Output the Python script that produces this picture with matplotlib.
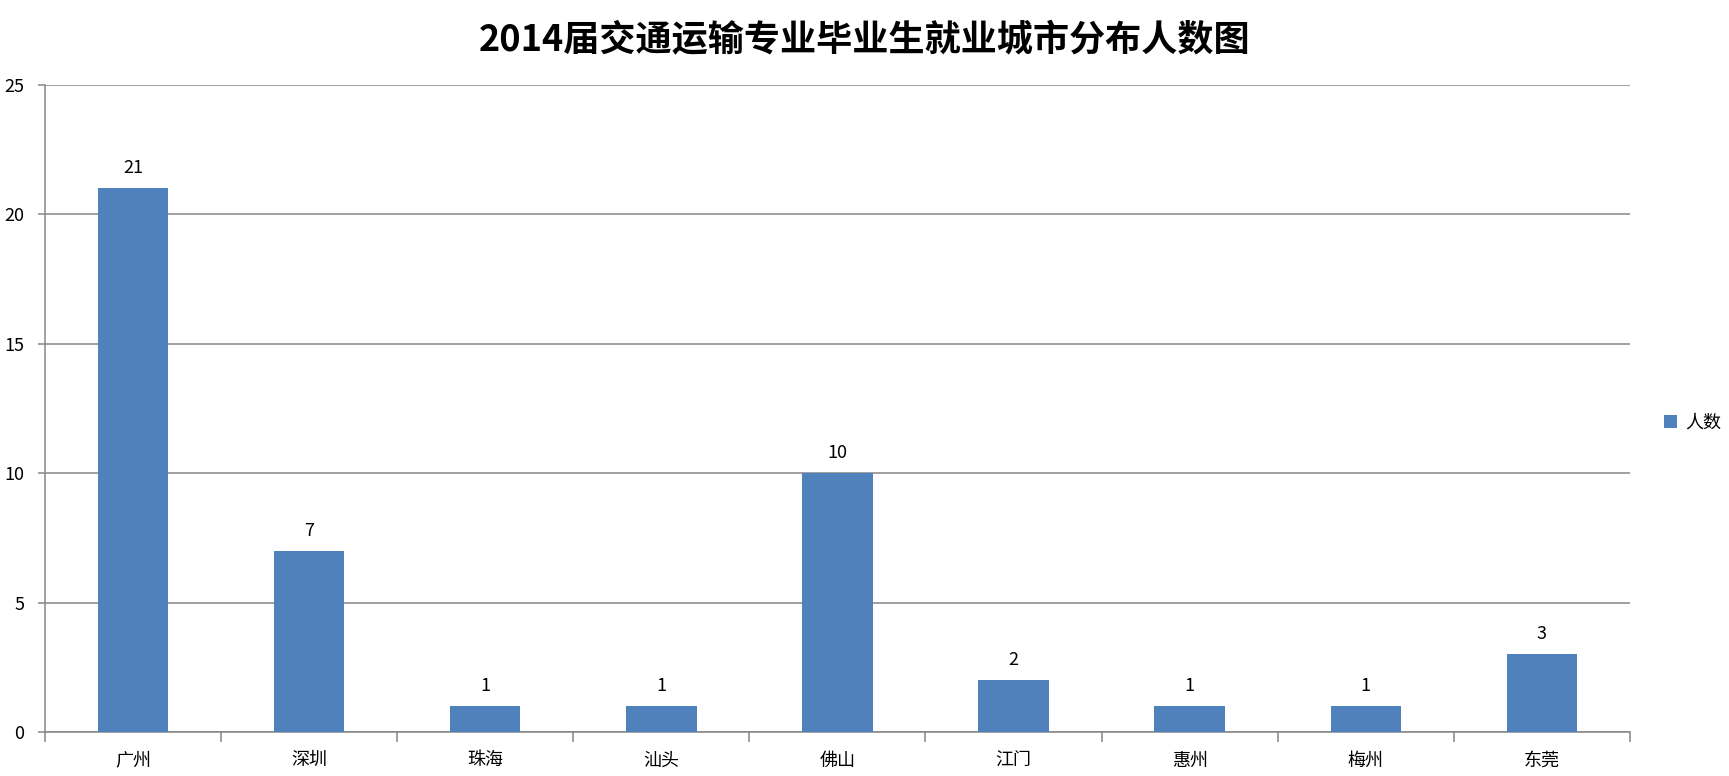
import matplotlib
matplotlib.use("Agg")
import matplotlib.pyplot as plt
import numpy as np

plt.rcParams['font.family'] = ['Noto Sans CJK SC', 'DejaVu Sans']

cities = ['广州', '深圳', '珠海', '汕头', '佛山', '江门', '惠州', '梅州', '东莞']
counts = [21, 7, 1, 1, 10, 2, 1, 1, 3]
series_name = '人数'
title = '2014届交通运输专业毕业生就业城市分布人数图'

bar_color = '#4F81BD'
line_color = '#868686'

fig = plt.figure(figsize=(17.29, 7.76), dpi=100)
ax = fig.add_axes([0.026, 0.0567, 0.9167, 0.8338])

x = np.arange(len(cities))
bars = ax.bar(x, counts, width=0.4, color=bar_color, label=series_name, zorder=3)

for xi, v in zip(x, counts):
    ax.annotate(str(v), (xi, v), xytext=(0, 8), textcoords='offset points',
                ha='center', va='bottom', fontsize=13)

ax.set_xlim(-0.5, len(cities) - 0.5)
ax.set_ylim(0, 25)
ax.set_yticks([0, 5, 10, 15, 20, 25])
ax.yaxis.grid(True, color=line_color, linewidth=1.1, zorder=0)

ax.set_xticks(x)
ax.set_xticklabels(cities, fontsize=13)
ax.set_xticks(np.arange(len(cities) + 1) - 0.5, minor=True)
ax.tick_params(axis='x', which='major', length=0, pad=14)
ax.tick_params(axis='x', which='minor', length=7, color=line_color, width=1.1)
ax.tick_params(axis='y', length=5, color=line_color, width=1.1, labelsize=13, pad=10)

for side in ['top', 'right']:
    ax.spines[side].set_visible(False)
for side in ['left', 'bottom']:
    ax.spines[side].set_color(line_color)
    ax.spines[side].set_linewidth(1.1)

fig.suptitle(title, fontsize=26, fontweight='bold', x=0.5, y=0.972)

fig.legend(handles=[bars], labels=[series_name], loc='center left',
           bbox_to_anchor=(0.953, 0.455), frameon=False, fontsize=13,
           handlelength=0.7, handleheight=0.7, handletextpad=0.5)

fig.savefig('out.png', dpi=100)
